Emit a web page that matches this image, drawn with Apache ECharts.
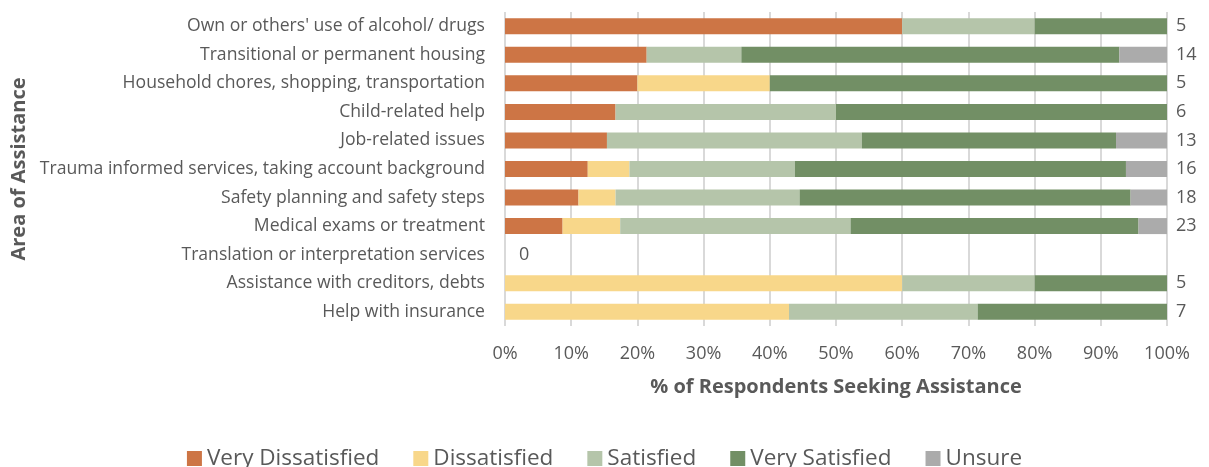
<!DOCTYPE html>
<html>
<head>
<meta charset="utf-8">
<script src="https://cdn.jsdelivr.net/npm/echarts@6/dist/echarts.min.js"></script>
<style>
  html, body { margin: 0; padding: 0; background: #fff; }
  #chart { width: 1209px; height: 467px; }
</style>
</head>
<body>
<div id="chart"></div>
<script>
// Areas of assistance, top to bottom
const categories = [
  "Own or others' use of alcohol/ drugs",
  "Transitional or permanent housing",
  "Household chores, shopping, transportation",
  "Child-related help",
  "Job-related issues",
  "Trauma informed services, taking account background",
  "Safety planning and safety steps",
  "Medical exams or treatment",
  "Translation or interpretation services",
  "Assistance with creditors, debts",
  "Help with insurance"
];

// Share of respondents (%) in each satisfaction level
const veryDissatisfied = [60.0, 21.4, 20.0, 16.7, 15.4, 12.5, 11.1, 8.7, 0, 0, 0];
const dissatisfied     = [0, 0, 20.0, 0, 0, 6.3, 5.6, 8.7, 0, 60.0, 42.9];
const satisfied        = [20.0, 14.3, 0, 33.3, 38.5, 25.0, 27.8, 34.8, 0, 20.0, 28.5];
const verySatisfied    = [20.0, 57.1, 60.0, 50.0, 38.4, 50.0, 50.0, 43.5, 0, 20.0, 28.6];
const unsure           = [0, 7.2, 0, 0, 7.7, 6.2, 5.5, 4.3, 0, 0, 0];

// Number of respondents behind each row
const respondents = [5, 14, 5, 6, 13, 16, 18, 23, 0, 5, 7];

const xTicks = ["0%", "10%", "20%", "30%", "40%", "50%", "60%", "70%", "80%", "90%", "100%"];

const levels = [
  { name: "Very Dissatisfied", data: veryDissatisfied, color: "#CD7545" },
  { name: "Dissatisfied",      data: dissatisfied,     color: "#F8D78A" },
  { name: "Satisfied",         data: satisfied,        color: "#B5C5AA" },
  { name: "Very Satisfied",    data: verySatisfied,    color: "#728F65" },
  { name: "Unsure",            data: unsure,           color: "#ABABAB" }
];

const FONT = "'Open Sans', 'Noto Sans', sans-serif";
const TEXT = "#595959";

const series = levels.map(l => ({
  name: l.name,
  type: "bar",
  stack: "total",
  barWidth: 16,
  data: l.data,
  itemStyle: { color: l.color },
  emphasis: { disabled: true }
}));

// Zero-width segment at the end of each stack carrying the respondent count
series.push({
  name: "N",
  type: "bar",
  stack: "total",
  barWidth: 16,
  data: respondents.map(n => ({
    value: 0,
    label: n === 0 ? { distance: 14 } : undefined
  })),
  itemStyle: { color: "transparent" },
  label: {
    show: true,
    position: "right",
    distance: 9,
    color: TEXT,
    fontFamily: FONT,
    fontSize: 18,
    formatter: p => String(respondents[p.dataIndex])
  },
  emphasis: { disabled: true },
  silent: true
});

const chart = echarts.init(document.getElementById("chart"), null, { renderer: "canvas" });
chart.setOption({
  animation: false,
  backgroundColor: "#ffffff",
  textStyle: { fontFamily: FONT },
  grid: { left: 505, right: 42, top: 12, bottom: 141, containLabel: false, outerBoundsMode: "none" },
  legend: {
    data: levels.map(l => l.name),
    left: "center",
    top: 442,
    icon: "rect",
    itemWidth: 15,
    itemHeight: 15,
    itemGap: 34,
    textStyle: { color: TEXT, fontSize: 22.5, fontFamily: FONT }
  },
  xAxis: {
    type: "value",
    min: 0,
    max: 100,
    interval: 10,
    name: "% of Respondents Seeking Assistance",
    nameLocation: "middle",
    nameGap: 51,
    nameTextStyle: { color: TEXT, fontSize: 20, fontWeight: "bold", fontFamily: FONT },
    axisLine: { show: false },
    axisTick: { show: false },
    axisLabel: {
      color: TEXT,
      fontSize: 18,
      fontFamily: FONT,
      margin: 19,
      formatter: v => xTicks[Math.round(v / 10)]
    },
    splitLine: { show: true, lineStyle: { color: "#D9D9D9", width: 2 } }
  },
  yAxis: {
    type: "category",
    data: categories,
    inverse: true,
    name: "Area of Assistance",
    nameLocation: "middle",
    nameGap: 469,
    nameRotate: 90,
    nameTextStyle: { color: TEXT, fontSize: 20, fontWeight: "bold", fontFamily: FONT },
    axisLine: { show: false },
    axisTick: { show: false },
    axisLabel: { color: TEXT, fontSize: 17.6, fontFamily: FONT, margin: 20 }
  },
  series: series
});
</script>
</body>
</html>
